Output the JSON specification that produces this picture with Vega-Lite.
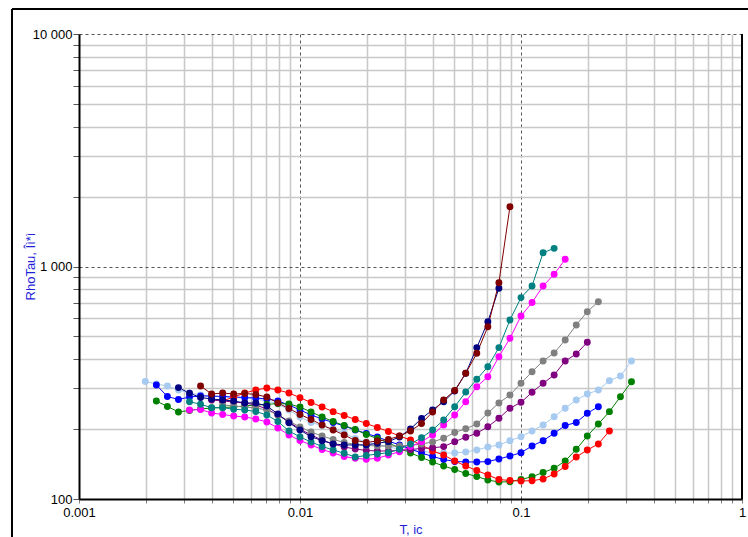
{
"$schema": "https://vega.github.io/schema/vega-lite/v6.json",
"width": 663, "height": 465,
"autosize": {"type": "none"},
"padding": {"left": 79, "top": 34, "right": 6, "bottom": 38},
"background": "white",
"config": {"view": {"stroke": null}, "font": "Liberation Sans"},
"datasets": {
"curves": [
{"s":"a","t":0.0019953,"r":320.1},{"s":"a","t":0.0022387,"r":312.4},{"s":"a","t":0.0025119,"r":306.3},{"s":"a","t":0.0028184,"r":294.3},{"s":"a","t":0.0031623,"r":285.7},{"s":"a","t":0.0035481,"r":280.1},{"s":"a","t":0.0039811,"r":277.3},{"s":"a","t":0.0044668,"r":274.6},{"s":"a","t":0.0050119,"r":273.2},{"s":"a","t":0.0056234,"r":271.9},{"s":"a","t":0.0063096,"r":269.3},{"s":"a","t":0.0070795,"r":264.0},{"s":"a","t":0.0079433,"r":256.2},{"s":"a","t":0.0089125,"r":241.5},{"s":"a","t":0.01,"r":225.3},{"s":"a","t":0.01122,"r":213.3},{"s":"a","t":0.012589,"r":207.1},{"s":"a","t":0.014125,"r":200.1},{"s":"a","t":0.015849,"r":192.3},{"s":"a","t":0.017783,"r":182.1},{"s":"a","t":0.019953,"r":175.9},{"s":"a","t":0.022387,"r":170.8},{"s":"a","t":0.025119,"r":167.4},{"s":"a","t":0.028184,"r":164.1},{"s":"a","t":0.031623,"r":161.7},{"s":"a","t":0.035481,"r":160.1},{"s":"a","t":0.039811,"r":158.6},{"s":"a","t":0.044668,"r":157.7},{"s":"a","t":0.050119,"r":157.7},{"s":"a","t":0.056234,"r":159.3},{"s":"a","t":0.063096,"r":162.5},{"s":"a","t":0.070795,"r":167.4},{"s":"a","t":0.079433,"r":170.8},{"s":"a","t":0.089125,"r":178.2},{"s":"a","t":0.1,"r":185.4},{"s":"a","t":0.1122,"r":196.1},{"s":"a","t":0.12589,"r":208.1},{"s":"a","t":0.14125,"r":226.0},{"s":"a","t":0.15849,"r":245.6},{"s":"a","t":0.17783,"r":266.6},{"s":"a","t":0.19953,"r":282.9},{"s":"a","t":0.22387,"r":294.3},{"s":"a","t":0.25119,"r":322.6},{"s":"a","t":0.28184,"r":338.1},{"s":"a","t":0.31623,"r":392.3},
{"s":"b","t":0.0022387,"r":309.3},{"s":"b","t":0.0025119,"r":276.0},{"s":"b","t":0.0028184,"r":267.9},{"s":"b","t":0.0031623,"r":274.6},{"s":"b","t":0.0035481,"r":277.3},{"s":"b","t":0.0039811,"r":277.3},{"s":"b","t":0.0044668,"r":276.0},{"s":"b","t":0.0050119,"r":274.6},{"s":"b","t":0.0056234,"r":273.2},{"s":"b","t":0.0063096,"r":271.9},{"s":"b","t":0.0070795,"r":269.3},{"s":"b","t":0.0079433,"r":264.0},{"s":"b","t":0.0089125,"r":253.7},{"s":"b","t":0.01,"r":241.5},{"s":"b","t":0.01122,"r":229.8},{"s":"b","t":0.012589,"r":220.9},{"s":"b","t":0.014125,"r":213.3},{"s":"b","t":0.015849,"r":206.0},{"s":"b","t":0.017783,"r":198.1},{"s":"b","t":0.019953,"r":191.4},{"s":"b","t":0.022387,"r":184.8},{"s":"b","t":0.025119,"r":177.6},{"s":"b","t":0.028184,"r":170.8},{"s":"b","t":0.031623,"r":164.1},{"s":"b","t":0.035481,"r":157.7},{"s":"b","t":0.039811,"r":152.3},{"s":"b","t":0.044668,"r":147.9},{"s":"b","t":0.050119,"r":145.0},{"s":"b","t":0.056234,"r":144.3},{"s":"b","t":0.063096,"r":144.3},{"s":"b","t":0.070795,"r":144.8},{"s":"b","t":0.079433,"r":148.7},{"s":"b","t":0.089125,"r":153.1},{"s":"b","t":0.1,"r":158.2},{"s":"b","t":0.1122,"r":169.1},{"s":"b","t":0.12589,"r":178.2},{"s":"b","t":0.14125,"r":191.7},{"s":"b","t":0.15849,"r":207.1},{"s":"b","t":0.17783,"r":213.3},{"s":"b","t":0.19953,"r":233.7},{"s":"b","t":0.22387,"r":249.5},
{"s":"c","t":0.0022387,"r":264.0},{"s":"c","t":0.0025119,"r":250.0},{"s":"c","t":0.0028184,"r":236.8},{"s":"c","t":0.0031623,"r":240.3},{"s":"c","t":0.0035481,"r":243.9},{"s":"c","t":0.0039811,"r":246.3},{"s":"c","t":0.0044668,"r":247.5},{"s":"c","t":0.0050119,"r":248.7},{"s":"c","t":0.0056234,"r":251.2},{"s":"c","t":0.0063096,"r":253.7},{"s":"c","t":0.0070795,"r":255.0},{"s":"c","t":0.0079433,"r":257.5},{"s":"c","t":0.0089125,"r":256.2},{"s":"c","t":0.01,"r":248.7},{"s":"c","t":0.01122,"r":236.8},{"s":"c","t":0.012589,"r":225.3},{"s":"c","t":0.014125,"r":215.5},{"s":"c","t":0.015849,"r":207.1},{"s":"c","t":0.017783,"r":199.1},{"s":"c","t":0.019953,"r":189.4},{"s":"c","t":0.022387,"r":182.1},{"s":"c","t":0.025119,"r":174.2},{"s":"c","t":0.028184,"r":165.8},{"s":"c","t":0.031623,"r":157.7},{"s":"c","t":0.035481,"r":150.9},{"s":"c","t":0.039811,"r":144.3},{"s":"c","t":0.044668,"r":138.6},{"s":"c","t":0.050119,"r":134.0},{"s":"c","t":0.056234,"r":128.7},{"s":"c","t":0.063096,"r":124.9},{"s":"c","t":0.070795,"r":120.7},{"s":"c","t":0.079433,"r":118.3},{"s":"c","t":0.089125,"r":118.7},{"s":"c","t":0.1,"r":121.3},{"s":"c","t":0.1122,"r":124.7},{"s":"c","t":0.12589,"r":130.0},{"s":"c","t":0.14125,"r":135.5},{"s":"c","t":0.15849,"r":145.7},{"s":"c","t":0.17783,"r":163.6},{"s":"c","t":0.19953,"r":186.6},{"s":"c","t":0.22387,"r":210.2},{"s":"c","t":0.25119,"r":237.5},{"s":"c","t":0.28184,"r":275.4},{"s":"c","t":0.31623,"r":319.6},
{"s":"d","t":0.0044668,"r":264.0},{"s":"d","t":0.0050119,"r":274.6},{"s":"d","t":0.0056234,"r":285.7},{"s":"d","t":0.0063096,"r":294.3},{"s":"d","t":0.0070795,"r":300.3},{"s":"d","t":0.0079433,"r":294.3},{"s":"d","t":0.0089125,"r":285.7},{"s":"d","t":0.01,"r":272.7},{"s":"d","t":0.01122,"r":260.1},{"s":"d","t":0.012589,"r":248.7},{"s":"d","t":0.014125,"r":237.5},{"s":"d","t":0.015849,"r":228.7},{"s":"d","t":0.017783,"r":219.8},{"s":"d","t":0.019953,"r":211.2},{"s":"d","t":0.022387,"r":203.0},{"s":"d","t":0.025119,"r":195.2},{"s":"d","t":0.028184,"r":186.6},{"s":"d","t":0.031623,"r":179.4},{"s":"d","t":0.035481,"r":170.8},{"s":"d","t":0.039811,"r":160.9},{"s":"d","t":0.044668,"r":154.6},{"s":"d","t":0.050119,"r":145.7},{"s":"d","t":0.056234,"r":138.6},{"s":"d","t":0.063096,"r":132.6},{"s":"d","t":0.070795,"r":126.8},{"s":"d","t":0.079433,"r":121.3},{"s":"d","t":0.089125,"r":120.1},{"s":"d","t":0.1,"r":119.5},{"s":"d","t":0.1122,"r":119.9},{"s":"d","t":0.12589,"r":121.9},{"s":"d","t":0.14125,"r":128.1},{"s":"d","t":0.15849,"r":138.0},{"s":"d","t":0.17783,"r":151.6},{"s":"d","t":0.19953,"r":162.5},{"s":"d","t":0.22387,"r":172.5},{"s":"d","t":0.25119,"r":196.1},
{"s":"e","t":0.0039811,"r":266.6},{"s":"e","t":0.0044668,"r":264.0},{"s":"e","t":0.0050119,"r":261.3},{"s":"e","t":0.0056234,"r":258.8},{"s":"e","t":0.0063096,"r":253.7},{"s":"e","t":0.0070795,"r":243.9},{"s":"e","t":0.0079433,"r":229.8},{"s":"e","t":0.0089125,"r":214.4},{"s":"e","t":0.01,"r":200.1},{"s":"e","t":0.01122,"r":188.5},{"s":"e","t":0.012589,"r":179.4},{"s":"e","t":0.014125,"r":172.5},{"s":"e","t":0.015849,"r":167.4},{"s":"e","t":0.017783,"r":164.1},{"s":"e","t":0.019953,"r":161.7},{"s":"e","t":0.022387,"r":160.9},{"s":"e","t":0.025119,"r":160.9},{"s":"e","t":0.028184,"r":161.7},{"s":"e","t":0.031623,"r":163.3},{"s":"e","t":0.035481,"r":164.9},{"s":"e","t":0.039811,"r":166.0},{"s":"e","t":0.044668,"r":168.0},{"s":"e","t":0.050119,"r":176.5},{"s":"e","t":0.056234,"r":184.3},{"s":"e","t":0.063096,"r":191.7},{"s":"e","t":0.070795,"r":204.6},{"s":"e","t":0.079433,"r":222.4},{"s":"e","t":0.089125,"r":245.6},{"s":"e","t":0.1,"r":260.6},{"s":"e","t":0.1122,"r":287.6},{"s":"e","t":0.12589,"r":314.5},{"s":"e","t":0.14125,"r":341.5},{"s":"e","t":0.15849,"r":392.3},{"s":"e","t":0.17783,"r":420.5},{"s":"e","t":0.19953,"r":472.3},
{"s":"f","t":0.0044668,"r":253.7},{"s":"f","t":0.0050119,"r":251.2},{"s":"f","t":0.0056234,"r":248.7},{"s":"f","t":0.0063096,"r":246.3},{"s":"f","t":0.0070795,"r":241.5},{"s":"f","t":0.0079433,"r":229.8},{"s":"f","t":0.0089125,"r":216.5},{"s":"f","t":0.01,"r":204.0},{"s":"f","t":0.01122,"r":194.2},{"s":"f","t":0.012589,"r":186.6},{"s":"f","t":0.014125,"r":180.3},{"s":"f","t":0.015849,"r":175.1},{"s":"f","t":0.017783,"r":171.7},{"s":"f","t":0.019953,"r":170.0},{"s":"f","t":0.022387,"r":169.1},{"s":"f","t":0.025119,"r":169.1},{"s":"f","t":0.028184,"r":169.1},{"s":"f","t":0.031623,"r":170.0},{"s":"f","t":0.035481,"r":172.5},{"s":"f","t":0.039811,"r":175.9},{"s":"f","t":0.044668,"r":182.5},{"s":"f","t":0.050119,"r":193.3},{"s":"f","t":0.056234,"r":200.5},{"s":"f","t":0.063096,"r":210.2},{"s":"f","t":0.070795,"r":234.4},{"s":"f","t":0.079433,"r":258.8},{"s":"f","t":0.089125,"r":280.1},{"s":"f","t":0.1,"r":314.5},{"s":"f","t":0.1122,"r":352.8},{"s":"f","t":0.12589,"r":392.3},{"s":"f","t":0.14125,"r":424.7},{"s":"f","t":0.15849,"r":482.9},{"s":"f","t":0.17783,"r":560.3},{"s":"f","t":0.19953,"r":639.3},{"s":"f","t":0.22387,"r":705.9},
{"s":"g","t":0.0031623,"r":241.5},{"s":"g","t":0.0035481,"r":242.7},{"s":"g","t":0.0039811,"r":234.4},{"s":"g","t":0.0044668,"r":231.0},{"s":"g","t":0.0050119,"r":227.5},{"s":"g","t":0.0056234,"r":225.3},{"s":"g","t":0.0063096,"r":220.9},{"s":"g","t":0.0070795,"r":214.4},{"s":"g","t":0.0079433,"r":202.1},{"s":"g","t":0.0089125,"r":188.5},{"s":"g","t":0.01,"r":178.5},{"s":"g","t":0.01122,"r":170.8},{"s":"g","t":0.012589,"r":163.3},{"s":"g","t":0.014125,"r":157.7},{"s":"g","t":0.015849,"r":152.3},{"s":"g","t":0.017783,"r":149.6},{"s":"g","t":0.019953,"r":148.2},{"s":"g","t":0.022387,"r":149.6},{"s":"g","t":0.025119,"r":154.6},{"s":"g","t":0.028184,"r":159.8},{"s":"g","t":0.031623,"r":168.0},{"s":"g","t":0.035481,"r":176.5},{"s":"g","t":0.039811,"r":188.5},{"s":"g","t":0.044668,"r":208.1},{"s":"g","t":0.050119,"r":229.8},{"s":"g","t":0.056234,"r":262.2},{"s":"g","t":0.063096,"r":304.1},{"s":"g","t":0.070795,"r":335.8},{"s":"g","t":0.079433,"r":409.2},{"s":"g","t":0.089125,"r":491.0},{"s":"g","t":0.1,"r":612.4},{"s":"g","t":0.1122,"r":699.9},{"s":"g","t":0.12589,"r":824.7},{"s":"g","t":0.14125,"r":925.8},{"s":"g","t":0.15849,"r":1074},
{"s":"h","t":0.0031623,"r":262.2},{"s":"h","t":0.0035481,"r":255.5},{"s":"h","t":0.0039811,"r":247.0},{"s":"h","t":0.0044668,"r":247.0},{"s":"h","t":0.0050119,"r":243.2},{"s":"h","t":0.0056234,"r":241.5},{"s":"h","t":0.0063096,"r":237.9},{"s":"h","t":0.0070795,"r":229.8},{"s":"h","t":0.0079433,"r":215.5},{"s":"h","t":0.0089125,"r":196.1},{"s":"h","t":0.01,"r":184.8},{"s":"h","t":0.01122,"r":175.9},{"s":"h","t":0.012589,"r":168.3},{"s":"h","t":0.014125,"r":162.5},{"s":"h","t":0.015849,"r":157.3},{"s":"h","t":0.017783,"r":151.6},{"s":"h","t":0.019953,"r":153.8},{"s":"h","t":0.022387,"r":156.2},{"s":"h","t":0.025119,"r":158.2},{"s":"h","t":0.028184,"r":163.6},{"s":"h","t":0.031623,"r":172.5},{"s":"h","t":0.035481,"r":183.5},{"s":"h","t":0.039811,"r":198.1},{"s":"h","t":0.044668,"r":218.7},{"s":"h","t":0.050119,"r":249.5},{"s":"h","t":0.056234,"r":288.5},{"s":"h","t":0.063096,"r":327.2},{"s":"h","t":0.070795,"r":370.7},{"s":"h","t":0.079433,"r":447.8},{"s":"h","t":0.089125,"r":588.6},{"s":"h","t":0.1,"r":734.8},{"s":"h","t":0.1122,"r":824.7},{"s":"h","t":0.12589,"r":1146},{"s":"h","t":0.14125,"r":1197},
{"s":"i","t":0.0028184,"r":301.4},{"s":"i","t":0.0031623,"r":285.1},{"s":"i","t":0.0035481,"r":273.2},{"s":"i","t":0.0039811,"r":269.3},{"s":"i","t":0.0044668,"r":266.6},{"s":"i","t":0.0050119,"r":264.0},{"s":"i","t":0.0056234,"r":258.8},{"s":"i","t":0.0063096,"r":258.8},{"s":"i","t":0.0070795,"r":251.2},{"s":"i","t":0.0079433,"r":232.1},{"s":"i","t":0.0089125,"r":212.9},{"s":"i","t":0.01,"r":198.1},{"s":"i","t":0.01122,"r":185.4},{"s":"i","t":0.012589,"r":178.2},{"s":"i","t":0.014125,"r":172.5},{"s":"i","t":0.015849,"r":170.8},{"s":"i","t":0.017783,"r":170.8},{"s":"i","t":0.019953,"r":170.8},{"s":"i","t":0.022387,"r":173.7},{"s":"i","t":0.025119,"r":176.5},{"s":"i","t":0.028184,"r":184.8},{"s":"i","t":0.031623,"r":200.1},{"s":"i","t":0.035481,"r":222.0},{"s":"i","t":0.039811,"r":241.5},{"s":"i","t":0.044668,"r":262.2},{"s":"i","t":0.050119,"r":291.4},{"s":"i","t":0.056234,"r":347.4},{"s":"i","t":0.063096,"r":447.8},{"s":"i","t":0.070795,"r":579.0},{"s":"i","t":0.079433,"r":805.8},
{"s":"j","t":0.0035481,"r":306.3},{"s":"j","t":0.0039811,"r":282.9},{"s":"j","t":0.0044668,"r":285.7},{"s":"j","t":0.0050119,"r":282.9},{"s":"j","t":0.0056234,"r":284.3},{"s":"j","t":0.0063096,"r":281.5},{"s":"j","t":0.0070795,"r":274.6},{"s":"j","t":0.0079433,"r":258.8},{"s":"j","t":0.0089125,"r":245.1},{"s":"j","t":0.01,"r":231.0},{"s":"j","t":0.01122,"r":219.8},{"s":"j","t":0.012589,"r":208.1},{"s":"j","t":0.014125,"r":198.1},{"s":"j","t":0.015849,"r":188.5},{"s":"j","t":0.017783,"r":178.5},{"s":"j","t":0.019953,"r":175.1},{"s":"j","t":0.022387,"r":177.6},{"s":"j","t":0.025119,"r":180.3},{"s":"j","t":0.028184,"r":186.6},{"s":"j","t":0.031623,"r":196.1},{"s":"j","t":0.035481,"r":211.2},{"s":"j","t":0.039811,"r":236.8},{"s":"j","t":0.044668,"r":266.6},{"s":"j","t":0.050119,"r":292.8},{"s":"j","t":0.056234,"r":347.4},{"s":"j","t":0.063096,"r":423.4},{"s":"j","t":0.070795,"r":551.0},{"s":"j","t":0.079433,"r":851.4},{"s":"j","t":0.089125,"r":1808}
],
"frame": [
{"x":0.0004975,"x2":0.0004975,"y":12809,"y2":60},
{"x":0.0004975,"x2":1.3,"y":12809,"y2":12809},
{"x":1,"x2":1,"y":10000,"y2":100}
]
},
"layer": [
{
"data": {"name": "curves"},
"mark": {"type": "line", "strokeWidth": 1, "point": {"filled": true, "size": 48, "opacity": 1}},
"encoding": {
"x": {"field": "t", "type": "quantitative",
  "scale": {"type": "log", "domain": [0.001, 1], "nice": false},
  "axis": {
    "values": [0.001,0.002,0.003,0.004,0.005,0.006,0.007,0.008,0.009,0.01,0.02,0.03,0.04,0.05,0.06,0.07,0.08,0.09,0.1,0.2,0.3,0.4,0.5,0.6,0.7,0.8,0.9,1],
    "labelExpr": "abs(log(datum.value)/LN10 - round(log(datum.value)/LN10)) < 0.001 ? format(datum.value, '~g') : ''",
    "title": "T, ic", "titleColor": "#1f1fd8", "titleFontSize": 13, "titleFontWeight": "normal", "titlePadding": 4,
    "labelFontSize": 13, "labelColor": "#000", "labelPadding": 3, "labelFlush": false, "labelOverlap": false,
    "domainColor": "#000", "domainWidth": 2,
    "tickColor": "#808080", "tickSize": 4,
    "grid": true,
    "gridColor": {"condition": {"test": "abs(log(datum.value)/LN10 - round(log(datum.value)/LN10)) < 0.001", "value": "#555555"}, "value": "#c8c8c8"},
    "gridDash": {"condition": {"test": "abs(log(datum.value)/LN10 - round(log(datum.value)/LN10)) < 0.001", "value": [3, 3]}, "value": []},
    "gridWidth": {"condition": {"test": "abs(log(datum.value)/LN10 - round(log(datum.value)/LN10)) < 0.001", "value": 1}, "value": 1.5}
  }},
"y": {"field": "r", "type": "quantitative",
  "scale": {"type": "log", "domain": [100, 10000], "nice": false},
  "axis": {
    "values": [100,200,300,400,500,600,700,800,900,1000,2000,3000,4000,5000,6000,7000,8000,9000,10000],
    "labelExpr": "abs(log(datum.value)/LN10 - round(log(datum.value)/LN10)) < 0.001 ? replace(format(datum.value, ','), ',', ' ') : ''",
    "title": "RhoTau, Îì*ì", "titleColor": "#1f1fd8", "titleFontSize": 13, "titleFontWeight": "normal",
    "titleX": -49, "titleY": 232, "titleAlign": "center", "titleBaseline": "middle", "titleAngle": 270,
    "labelFontSize": 13, "labelColor": "#000", "labelPadding": 1, "labelFlush": false, "labelOverlap": false,
    "domainColor": "#000", "domainWidth": 2,
    "tickColor": "#555555", "tickSize": 6,
    "grid": true,
    "gridColor": {"condition": {"test": "abs(log(datum.value)/LN10 - round(log(datum.value)/LN10)) < 0.001", "value": "#555555"}, "value": "#c8c8c8"},
    "gridDash": {"condition": {"test": "abs(log(datum.value)/LN10 - round(log(datum.value)/LN10)) < 0.001", "value": [3, 3]}, "value": []},
    "gridWidth": {"condition": {"test": "abs(log(datum.value)/LN10 - round(log(datum.value)/LN10)) < 0.001", "value": 1}, "value": 1.5}
  }},
"color": {"field": "s", "type": "nominal",
  "scale": {"domain": ["a","b","c","d","e","f","g","h","i","j"],
            "range": ["#a6caf0","#0000ff","#008000","#ff0000","#800080","#808080","#ff00ff","#008080","#000080","#800000"]},
  "legend": null}
}
},
{
"data": {"name": "frame"},
"mark": {"type": "rule", "color": "#000", "strokeWidth": 2},
"encoding": {
"x": {"field": "x", "type": "quantitative"},
"x2": {"field": "x2"},
"y": {"field": "y", "type": "quantitative"},
"y2": {"field": "y2"}
}
}
]
}
